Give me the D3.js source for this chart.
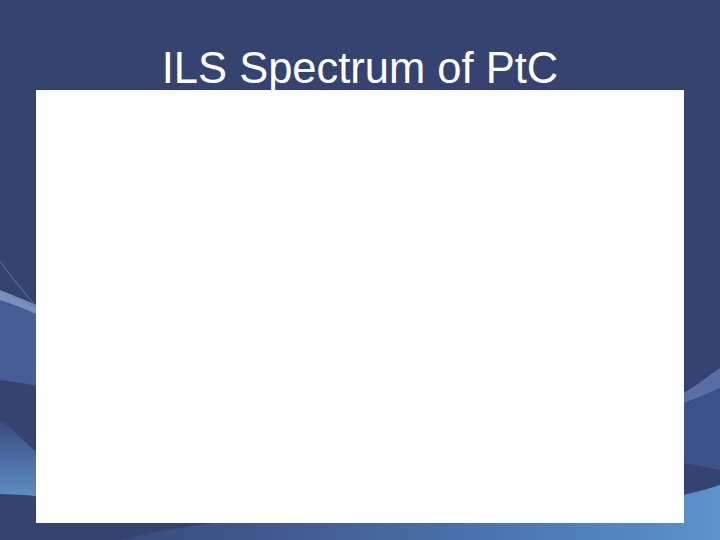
<!DOCTYPE html>
<html>
<head>
<meta charset="utf-8">
<style>
body{ margin:0; background:#354370; }
svg{ display:block; }
</style>
<script src="https://d3js.org/d3.v7.min.js"></script>
</head>
<body>
<script>
// the slide carries only a title and an empty plot area - no series to draw
var titleText = ["ILS Spectrum of PtC"]
var xDomain = []
var yDomain = []

var w = 720
var h = 540

var svg = d3.select("body")
            .append("svg")
            .attr("width", w)
            .attr("height", h)

var defs = svg.append("defs")

var g1 = defs.append("linearGradient")
             .attr("id", "swoosh")
             .attr("x1", "0").attr("y1", "0")
             .attr("x2", "1").attr("y2", "0")
g1.append("stop").attr("offset", "0").attr("stop-color", "#3a4b7e")
g1.append("stop").attr("offset", "0.25").attr("stop-color", "#41598e")
g1.append("stop").attr("offset", "0.6").attr("stop-color", "#4a73ac")
g1.append("stop").attr("offset", "1").attr("stop-color", "#5b93cc")

var g2 = defs.append("linearGradient")
             .attr("id", "leftglow")
             .attr("x1", "0").attr("y1", "0")
             .attr("x2", "0").attr("y2", "1")
g2.append("stop").attr("offset", "0").attr("stop-color", "#3a4a7d")
g2.append("stop").attr("offset", "0.6").attr("stop-color", "#4f74aa")
g2.append("stop").attr("offset", "1").attr("stop-color", "#5d92c9")

// background
svg.append("rect")
   .attr("width", w)
   .attr("height", h)
   .attr("fill", "#354370")

var deco = svg.append("g")

// left side bands
deco.append("path")
    .attr("d", "M0,292 C20,300 40,310 60,320 L60,392 C40,386 20,382 0,380 Z")
    .attr("fill", "#4a6097")
    .attr("opacity", 0.9)
deco.append("path")
    .attr("d", "M0,290 C20,298 40,306 60,316 L60,324 C40,316 20,306 0,300 Z")
    .attr("fill", "#8ea7d0")
    .attr("opacity", 0.7)
deco.append("line")
    .attr("x1", 0).attr("y1", 262)
    .attr("x2", 40).attr("y2", 312)
    .attr("stroke", "#6c80b0")
    .attr("stroke-width", 0.8)
deco.append("path")
    .attr("d", "M0,420 C15,430 30,450 60,470 L60,500 C40,496 20,494 0,494 Z")
    .attr("fill", "url(#leftglow)")

// right side bands
deco.append("path")
    .attr("d", "M660,405 C690,392 705,378 720,368 L720,388 C705,395 690,402 660,410 Z")
    .attr("fill", "#5670a6")
deco.append("path")
    .attr("d", "M660,410 C690,402 705,395 720,388 L720,470 C700,466 680,462 660,460 Z")
    .attr("fill", "#3d5088")

// bottom sweep
deco.append("path")
    .attr("d", "M120,540 C200,520 380,500 560,505 C640,507 690,495 720,485 L720,540 Z")
    .attr("fill", "url(#swoosh)")

// plot area (empty)
svg.append("rect")
   .attr("x", 36)
   .attr("y", 90)
   .attr("width", 648)
   .attr("height", 433)
   .attr("fill", "#ffffff")

svg.selectAll("text.title")
   .data(titleText)
   .enter()
   .append("text")
   .attr("class", "title")
   .attr("x", w/2)
   .attr("y", 83)
   .attr("text-anchor", "middle")
   .attr("font-family", "Liberation Sans, Arial, sans-serif")
   .attr("font-size", "43.5px")
   .attr("fill", "#ffffff")
   .text(function(d){ return d })
</script>
</body>
</html>
